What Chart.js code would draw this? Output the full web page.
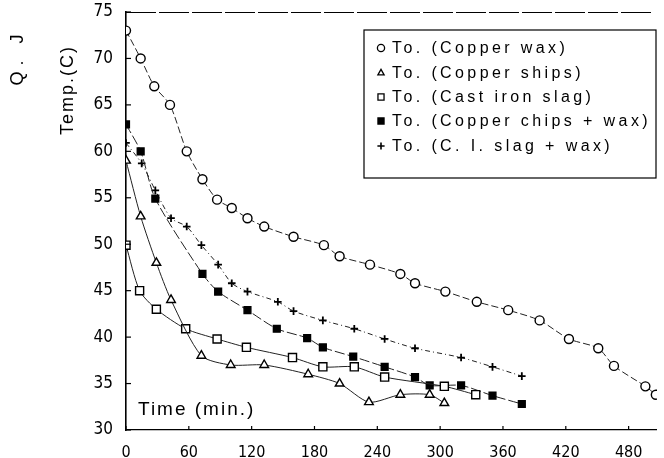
<!DOCTYPE html>
<html>
<head>
<meta charset="utf-8">
<script src="https://cdn.jsdelivr.net/npm/chart.js@4"></script>
<style>
  html, body { margin: 0; background: #fff; }
</style>
</head>
<body>
<canvas id="grafico" width="664" height="458"></canvas>
<script>
// tempo (min) e temperatura (C)
const tempoCobreCera = [0, 14, 27, 42, 58, 73, 87, 101, 116, 132, 160, 189, 204, 233, 262, 276, 305, 335, 365, 395, 423, 451, 466, 496, 506];
const tempCobreCera = [73, 70, 67, 65, 60, 57, 54.8, 53.9, 52.8, 51.9, 50.8, 49.9, 48.7, 47.8, 46.8, 45.8, 44.9, 43.8, 42.9, 41.8, 39.8, 38.8, 36.9, 34.7, 33.8];

const tempoCavaco = [0, 14, 29, 43, 72, 100, 132, 174, 204, 232, 262, 290, 304];
const tempCavaco = [59, 53, 48, 44, 38, 37, 37, 36, 35, 33, 33.8, 33.8, 32.9];

const tempoEscoria = [0, 13, 29, 57, 87, 115, 159, 188, 218, 247, 304, 334];
const tempEscoria = [49.9, 45, 43, 40.9, 39.8, 38.9, 37.8, 36.8, 36.8, 35.7, 34.7, 33.8];

const tempoCavacoCera = [0, 14, 28, 73, 88, 116, 144, 173, 188, 217, 247, 276, 290, 320, 350, 378];
const tempCavacoCera = [62.9, 60, 54.9, 46.8, 44.9, 42.9, 40.9, 39.9, 38.9, 37.9, 36.8, 35.7, 34.8, 34.8, 33.7, 32.8];

const tempoEscoriaCera = [0, 15, 28, 43, 58, 72, 88, 101, 116, 145, 160, 188, 218, 247, 276, 320, 350, 378];
const tempEscoriaCera = [60.9, 58.7, 55.8, 52.8, 51.9, 49.9, 47.8, 45.8, 44.9, 43.8, 42.8, 41.8, 40.9, 39.8, 38.8, 37.8, 36.8, 35.8];

const legendas = [
  "To. (Copper wax)",
  "To. (Copper ships)",
  "To. (Cast iron slag)",
  "To. (Copper chips + wax)",
  "To. (C. I. slag + wax)"
];

const ticksX = [0, 60, 120, 180, 240, 300, 360, 420, 480];
const ticksY = [30, 35, 40, 45, 50, 55, 60, 65, 70, 75];

function pontos(tempos, temps) {
  return tempos.map((t, i) => ({ x: t, y: temps[i] }));
}

function serie(label, tempos, temps, estilo, raio, cheio, traco) {
  return {
    label: label,
    data: pontos(tempos, temps),
    borderColor: "#222",
    borderWidth: 1,
    borderDash: traco,
    tension: 0.25,
    pointStyle: estilo,
    pointRadius: raio,
    pointBorderWidth: estilo === "cross" ? 1.8 : 1.4,
    pointBorderColor: "#000",
    pointBackgroundColor: cheio ? "#000" : "#fff"
  };
}

const datasets = [
  serie(legendas[0], tempoCobreCera, tempCobreCera, "circle", 4.5, false, [7, 3]),
  serie(legendas[1], tempoCavaco, tempCavaco, "triangle", 5, false, []),
  serie(legendas[2], tempoEscoria, tempEscoria, "rect", 5.7, false, []),
  serie(legendas[3], tempoCavacoCera, tempCavacoCera, "rect", 4.8, true, [10, 3]),
  serie(legendas[4], tempoEscoriaCera, tempEscoriaCera, "cross", 3.8, false, [5, 3, 1, 3])
];

// marcas, bordas e textos extras desenhados em cima do grafico
const extras = {
  id: "extras",
  afterDatasetsDraw(chart) {
    const ctx = chart.ctx;
    const area = chart.chartArea;
    const sx = chart.scales.x;
    const sy = chart.scales.y;
    ctx.save();
    ctx.strokeStyle = "#000";
    ctx.lineWidth = 1;
    // borda de cima tracejada
    ctx.setLineDash([30, 3]);
    ctx.beginPath();
    ctx.moveTo(area.left, area.top + 0.5);
    ctx.lineTo(area.right - 4, area.top + 0.5);
    ctx.stroke();
    ctx.setLineDash([]);
    ctx.lineWidth = 1.2;
    // marcas para dentro
    ticksY.forEach(v => {
      const y = sy.getPixelForValue(v);
      ctx.beginPath();
      ctx.moveTo(area.left, y);
      ctx.lineTo(area.left + 5, y);
      ctx.stroke();
    });
    ticksX.forEach(v => {
      const x = sx.getPixelForValue(v);
      ctx.beginPath();
      ctx.moveTo(x, area.bottom);
      ctx.lineTo(x, area.bottom - 4);
      ctx.stroke();
    });

    // legenda dentro da area
    const bx = 364, by = 30, bw = 292, bh = 148;
    ctx.fillStyle = "#fff";
    ctx.fillRect(bx, by, bw, bh);
    ctx.lineWidth = 1.2;
    ctx.strokeRect(bx, by, bw, bh);
    const linhas = [48, 73, 97, 121, 146];
    ctx.font = "16px 'Liberation Sans', Arial, sans-serif";
    ctx.letterSpacing = "3.4px";
    ctx.textBaseline = "middle";
    chart.data.datasets.forEach((ds, i) => {
      const y = linhas[i];
      ctx.lineWidth = ds.pointStyle === "cross" ? 1.6 : 1.3;
      ctx.strokeStyle = "#000";
      ctx.fillStyle = ds.pointBackgroundColor;
      Chart.helpers.drawPoint(ctx, {
        pointStyle: ds.pointStyle,
        radius: ds.pointStyle === "rect" ? 4.3 : 3.6,
        rotation: 0,
        borderWidth: ctx.lineWidth
      }, 381, y);
      ctx.fillStyle = "#000";
      ctx.fillText(ds.label, 392, y + 1);
    });

    // texto do eixo x dentro da area
    ctx.font = "19px 'Liberation Sans', Arial, sans-serif";
    ctx.letterSpacing = "2px";
    ctx.textBaseline = "alphabetic";
    ctx.fillText("Time (min.)", 138, 415);

    // titulos do eixo y
    ctx.letterSpacing = "2px";
    ctx.font = "18px 'Liberation Sans', Arial, sans-serif";
    ctx.textAlign = "center";
    ctx.textBaseline = "middle";
    ctx.translate(68, 90);
    ctx.rotate(-Math.PI / 2);
    ctx.fillText("Temp.(C)", 0, 0);
    ctx.rotate(Math.PI / 2);
    ctx.translate(-68, -90);
    ctx.letterSpacing = "6px";
    ctx.translate(18, 57);
    ctx.rotate(-Math.PI / 2);
    ctx.fillText("Q. J", 0, 0);
    ctx.restore();
  }
};

const grafico = new Chart(document.getElementById("grafico"), {
  type: "line",
  data: { datasets: datasets },
  options: {
    responsive: false,
    animation: false,
    layout: { padding: { left: 90, top: 12, right: 0, bottom: 0 } },
    plugins: { legend: { display: false }, tooltip: { enabled: false } },
    scales: {
      x: {
        type: "linear",
        min: 0,
        max: 507,
        afterBuildTicks: s => { s.ticks = ticksX.map(v => ({ value: v })); },
        afterFit: s => { s.height = 28; s.paddingLeft = 0; s.paddingRight = 0; },
        grid: { display: false },
        border: { display: true, color: "#000", width: 1.3, dash: [16, 3] },
        ticks: {
          color: "#000",
          padding: 5,
          maxRotation: 0,
          autoSkip: false,
          font: { family: "'Liberation Sans Narrow', 'DejaVu Sans Condensed', sans-serif", size: 16 }
        }
      },
      y: {
        min: 30,
        max: 75,
        afterBuildTicks: s => { s.ticks = ticksY.map(v => ({ value: v })); },
        afterFit: s => { s.width = 36; s.paddingTop = 0; s.paddingBottom = 0; },
        grid: { display: false },
        border: { display: true, color: "#000", width: 1.6 },
        ticks: {
          color: "#000",
          padding: 5,
          font: { family: "'Liberation Sans Narrow', 'DejaVu Sans Condensed', sans-serif", size: 17 }
        }
      }
    }
  },
  plugins: [extras]
});
</script>
</body>
</html>
